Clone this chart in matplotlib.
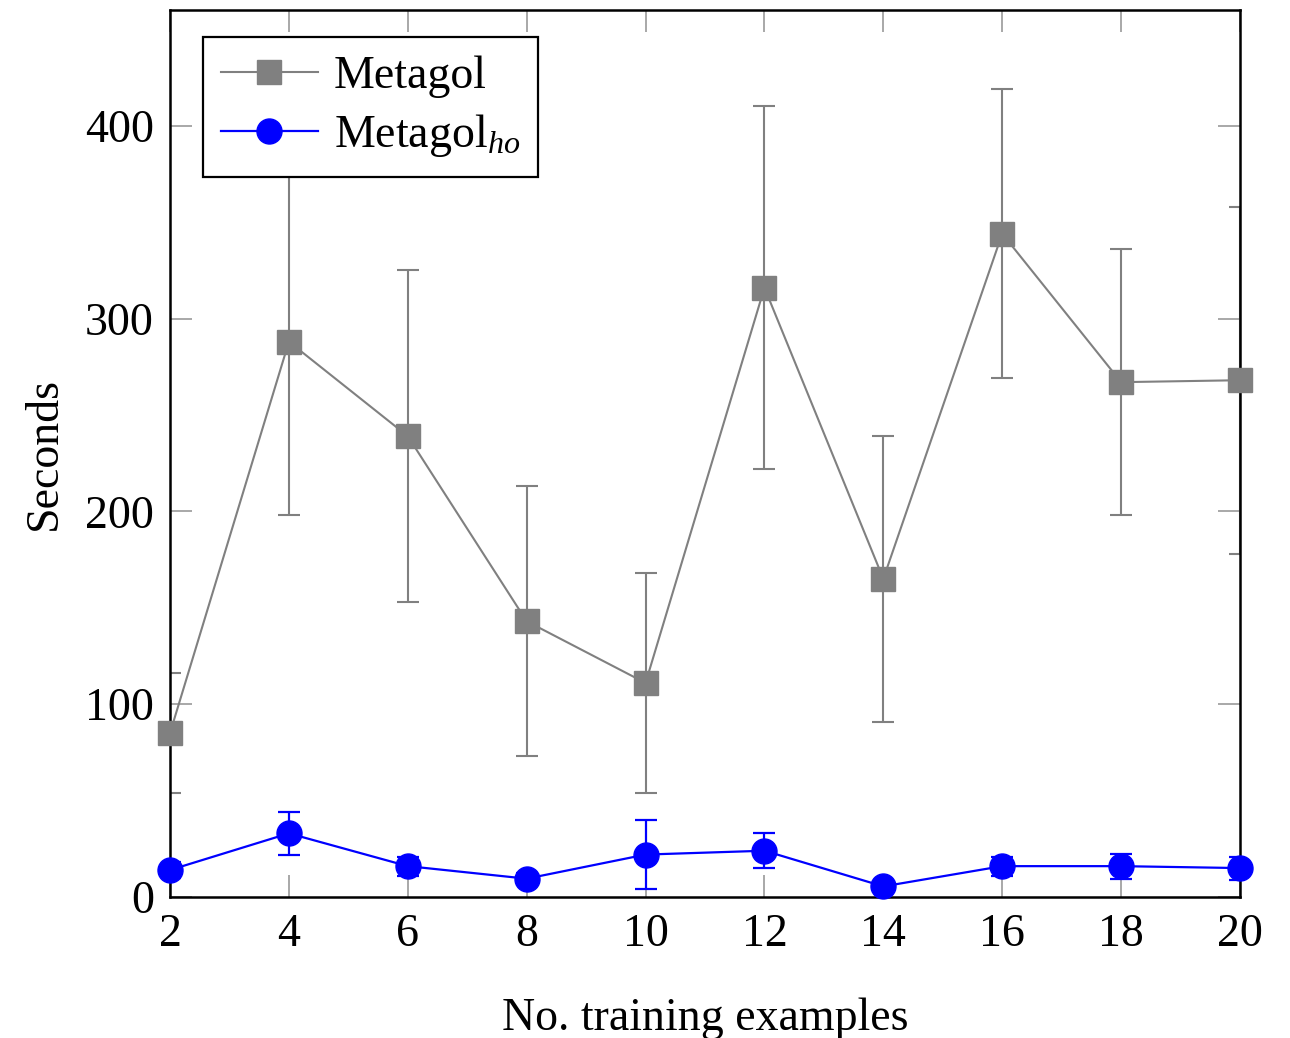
import matplotlib
matplotlib.use("Agg")
import matplotlib.pyplot as plt

plt.rcParams['font.family'] = ['Liberation Serif', 'DejaVu Serif']
plt.rcParams['mathtext.fontset'] = 'custom'
plt.rcParams['mathtext.rm'] = 'Liberation Serif'
plt.rcParams['mathtext.it'] = 'Liberation Serif:italic'

x = [2, 4, 6, 8, 10, 12, 14, 16, 18, 20]
metagol = [85, 288, 239, 143, 111, 316, 165, 344, 267, 268]
metagol_err = [31, 90, 86, 70, 57, 94, 74, 75, 69, 90]
metagol_ho = [14, 33, 16, 9.5, 22, 24, 5.5, 16, 16, 15]
metagol_ho_err = [4, 11, 5, 3, 18, 9, 2, 5, 6.5, 6]
xticks = [2, 4, 6, 8, 10, 12, 14, 16, 18, 20]
yticks = [0, 100, 200, 300, 400]

gray = '#808080'
blue = '#0000ff'

fig = plt.figure(figsize=(12.9, 10.38), dpi=100)
ax = fig.add_axes([170/1290, 141/1038, 1070/1290, 887/1038])

ax.errorbar(x, metagol, yerr=metagol_err, fmt='none', ecolor=gray,
            elinewidth=1.5, capsize=8, capthick=1.5)
ax.errorbar(x, metagol_ho, yerr=metagol_ho_err, fmt='none', ecolor=blue,
            elinewidth=1.6, capsize=8, capthick=1.6)
ax.plot(x, metagol, color=gray, lw=1.5, marker='s', ms=17,
        label='Metagol', clip_on=False, zorder=3)
ax.plot(x, metagol_ho, color=blue, lw=1.6, marker='o', ms=18,
        label='Metagol$_{\\mathit{ho}}$', clip_on=False, zorder=3)

ax.set_xlim(2, 20)
ax.set_ylim(0, 460)
ax.set_xticks(xticks)
ax.set_yticks(yticks)
ax.tick_params(direction='in', length=16, width=1.2, color='0.6',
               top=True, right=True, labelsize=33)
ax.tick_params(axis='y', pad=11.5)
ax.tick_params(axis='x', pad=12)
for s in ax.spines.values():
    s.set_linewidth(1.8)
    s.set_color('black')

ax.set_xlabel('No. training examples', fontsize=33, labelpad=30)
ax.set_ylabel('Seconds', fontsize=33, labelpad=14)

leg = ax.legend(loc='upper left', fontsize=33, fancybox=False,
                edgecolor='black', framealpha=1, borderpad=0.4,
                borderaxespad=0, handlelength=2.1,
                bbox_to_anchor=(33/1070, 1 - 27/887),
                labelspacing=0.3, handletextpad=0.35)
leg.get_frame().set_linewidth(1.6)

fig.savefig('out.png', dpi=100)
